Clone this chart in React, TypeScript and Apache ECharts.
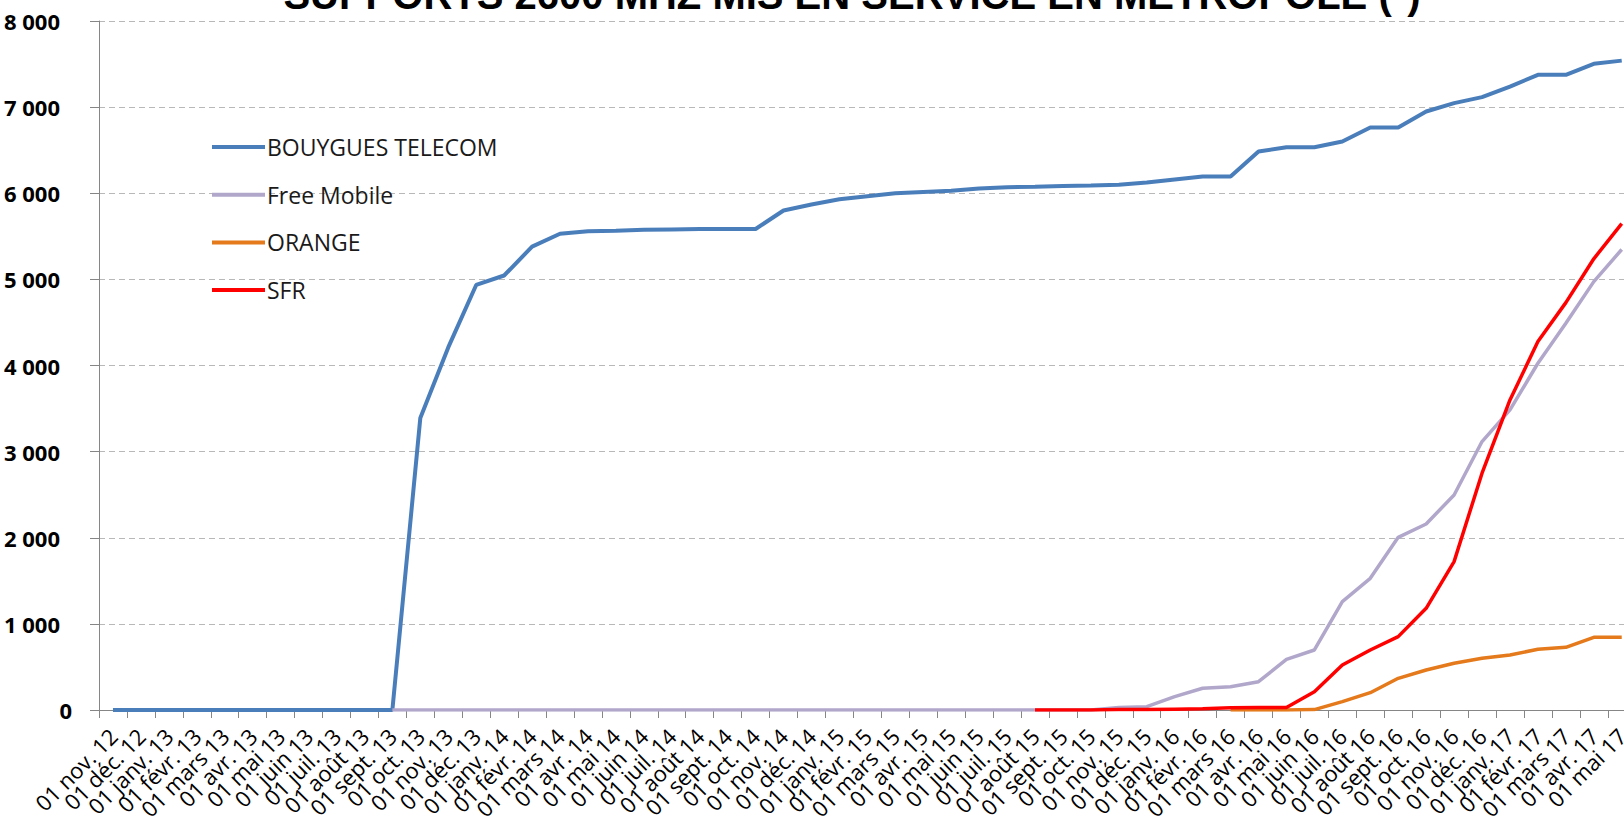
import React, { useEffect, useRef } from 'react';
import * as echarts from 'echarts';

const categories = [
  '01 nov. 12', '01 déc. 12',
  '01 janv. 13', '01 févr. 13', '01 mars 13', '01 avr. 13', '01 mai 13', '01 juin 13', '01 juil. 13', '01 août 13', '01 sept. 13', '01 oct. 13', '01 nov. 13', '01 déc. 13',
  '01 janv. 14', '01 févr. 14', '01 mars 14', '01 avr. 14', '01 mai 14', '01 juin 14', '01 juil. 14', '01 août 14', '01 sept. 14', '01 oct. 14', '01 nov. 14', '01 déc. 14',
  '01 janv. 15', '01 févr. 15', '01 mars 15', '01 avr. 15', '01 mai 15', '01 juin 15', '01 juil. 15', '01 août 15', '01 sept. 15', '01 oct. 15', '01 nov. 15', '01 déc. 15',
  '01 janv. 16', '01 févr. 16', '01 mars 16', '01 avr. 16', '01 mai 16', '01 juin 16', '01 juil. 16', '01 août 16', '01 sept. 16', '01 oct. 16', '01 nov. 16', '01 déc. 16',
  '01 janv. 17', '01 févr. 17', '01 mars 17', '01 avr. 17', '01 mai 17',
];

const bouygues = [
  0, 0, 0, 0, 0, 0, 0, 0, 0, 0, 0,
  3390, 4210, 4935, 5045, 5380, 5530, 5560, 5565, 5575, 5580, 5585, 5585, 5585,
  5800, 5870, 5930, 5965, 6000, 6015, 6030, 6055, 6070, 6075, 6085, 6090, 6100, 6124,
  6160, 6194, 6194, 6484, 6535, 6535, 6600, 6763, 6763, 6949, 7046, 7116, 7239,
  7375, 7375, 7503, 7540,
];

const freeMobile = [
  null, null, null, null, null, null, null, null, null, null,
  0, 0, 0, 0, 0, 0, 0, 0, 0, 0, 0, 0, 0, 0, 0, 0, 0, 0, 0, 0, 0, 0, 0, 0, 0, 0,
  30, 39, 155, 252, 271, 329, 588, 697, 1258, 1529, 2005, 2160, 2497, 3117, 3484,
  4026, 4491, 4974, 5347,
];

const orange = [
  null, null, null, null, null, null, null, null, null, null,
  null, null, null, null, null, null, null, null, null, null,
  null, null, null, null, null, null, null, null, null, null,
  null, null, null, null, null, null, null, null, null, null,
  0, 0, 0, 5, 97, 201, 368, 465, 542, 600, 639, 705, 728, 844, 844,
];

const sfr = [
  null, null, null, null, null, null, null, null, null, null,
  null, null, null, null, null, null, null, null, null, null,
  null, null, null, null, null, null, null, null, null, null,
  null, null, null,
  0, 0, 0, 5, 5, 10, 15, 25, 30, 30, 213, 523, 697, 852, 1181, 1723, 2750, 3600,
  4278, 4730, 5239, 5648,
];

const seriesNames = ['BOUYGUES TELECOM', 'Free Mobile', 'ORANGE', 'SFR'];
const seriesColors = ['#4a7ebb', '#b1a7cb', '#e47a1b', '#ff0000'];
const titleText = 'SUPPORTS 2600 MHZ MIS EN SERVICE EN METROPOLE (*)';

function fmt(v: number): string {
  const s = String(Math.round(v));
  return s.replace(/\B(?=(\d{3})+(?!\d))/g, ' ');
}

export default function App() {
  const ref = useRef<HTMLDivElement>(null);
  useEffect(() => {
    if (!ref.current) return;
    const chart = echarts.init(ref.current, undefined, { renderer: 'svg' });
    const dataSets = [bouygues, freeMobile, orange, sfr];
    chart.setOption({
      animation: false,
      backgroundColor: '#ffffff',
      graphic: [
        {
          type: 'text',
          x: 852,
          y: -5,
          style: {
            text: titleText,
            fontFamily: 'Liberation Sans',
            fontWeight: 'bold',
            fontSize: 40,
            fill: '#000000',
            textAlign: 'center',
            textVerticalAlign: 'middle',
          },
        },
      ],
      legend: {
        orient: 'vertical',
        left: 207,
        top: 130,
        itemWidth: 53,
        itemHeight: 4,
        itemGap: 23.7,
        icon: 'rect',
        selectedMode: false,
        textStyle: { fontFamily: 'Open Sans', fontSize: 23, color: '#1a1a1a', lineHeight: 24, padding: [0, 0, 0, -3] },
        data: seriesNames,
      },
      grid: { left: 99, top: 21, width: 1536.7, height: 689 },
      xAxis: {
        type: 'category',
        data: categories,
        boundaryGap: true,
        axisLine: { show: true, lineStyle: { color: '#868686', width: 1 } },
        axisTick: { show: true, interval: 0, length: 8, lineStyle: { color: '#868686' } },
        axisLabel: {
          interval: 0,
          rotate: 45,
          margin: 22,
          fontFamily: 'Open Sans',
          fontSize: 22,
          color: '#000000',
        },
        splitLine: { show: false },
      },
      yAxis: {
        type: 'value',
        min: 0,
        max: 8000,
        interval: 1000,
        axisLine: { show: true, lineStyle: { color: '#868686', width: 1 } },
        axisTick: { show: true, length: 9, lineStyle: { color: '#868686' } },
        splitLine: { show: true, lineStyle: { color: '#b8b8b8', type: [6, 4], width: 1 } },
        axisLabel: {
          margin: 27,
          formatter: (v: number) => (v === 0 ? '{z|0}' : '{n|' + fmt(v) + '}'),
          rich: {
            z: { fontFamily: 'Open Sans', fontWeight: 'bold', fontSize: 22, color: '#000000' },
            n: { fontFamily: 'Open Sans', fontWeight: 'bold', fontSize: 22, color: '#000000', padding: [0, 12, 0, 0] },
          },
        },
      },
      series: seriesNames.map((name, i) => ({
        name,
        type: 'line',
        data: dataSets[i],
        color: seriesColors[i],
        symbol: 'none',
        showSymbol: false,
        connectNulls: false,
        lineStyle: { color: seriesColors[i], width: i === 0 ? 4 : 3.5 },
        emphasis: { disabled: true },
      })),
    });
    return () => chart.dispose();
  }, []);
  return (
    <div style={{ position: 'fixed', left: 0, top: 0, width: 1624, height: 829, overflow: 'hidden', background: '#fff' }}>
      <div ref={ref} style={{ width: 1660, height: 829 }} />
    </div>
  );
}
